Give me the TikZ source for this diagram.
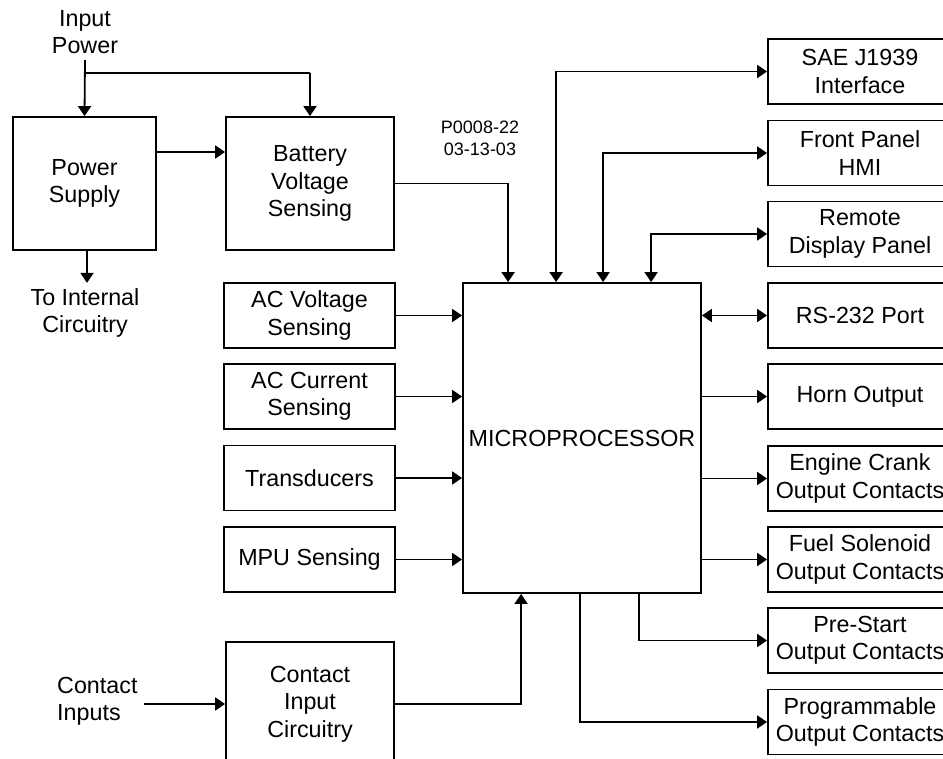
\documentclass[tikz,border=0pt]{standalone}
\usepackage{fontspec}
\setmainfont{Liberation Sans}
\usetikzlibrary{arrows.meta,calc}
\begin{document}
\begin{tikzpicture}[x=1pt,y=-1pt,
  blk/.style={draw, line width=1.8pt, inner sep=0pt, align=center, font=\fontsize{23.3}{27.3}\selectfont},
  lbl/.style={inner sep=0pt, align=center, font=\fontsize{23.3}{27.3}\selectfont},
  arr/.style={line width=1.8pt, -{Triangle[length=10pt,width=13pt]}},
  darr/.style={line width=1.8pt, {Triangle[length=10pt,width=13pt]}-{Triangle[length=10pt,width=13pt]}}]
\useasboundingbox (0,0) rectangle (943,759);
\clip (0,0) rectangle (943,759);
\fill[white] (0,0) rectangle (943,759);
% left column
\node[blk, minimum width=143pt, minimum height=133pt] (ps) at (84.5,183.5) {Power\\Supply};
\node[blk, minimum width=168pt, minimum height=133pt] (bat) at (310,183.5) {Battery\\Voltage\\Sensing};
\node[blk, minimum width=171pt, minimum height=65pt] (acv) at (309.5,315.5) {AC Voltage\\Sensing};
\node[blk, minimum width=171pt, minimum height=65pt] (acc) at (309.5,396.5) {AC Current\\Sensing};
\node[blk, minimum width=171pt, minimum height=65pt] (trd) at (309.5,478) {Transducers};
\node[blk, minimum width=171pt, minimum height=65pt] (mpu) at (309.5,559.5) {MPU Sensing};
\node[blk, minimum width=168pt, minimum height=124pt] (cic) at (310,704) {Contact\\Input\\Circuitry};
% microprocessor
\node[blk, minimum width=238pt, minimum height=310pt] (mic) at (582,438) {MICROPROCESSOR};
% right column
\node[blk, minimum width=184pt, minimum height=65pt] (sae) at (860,71.5) {SAE J1939\\Interface};
\node[blk, minimum width=184pt, minimum height=65pt] (fp) at (860,153) {Front Panel\\HMI};
\node[blk, minimum width=184pt, minimum height=65pt] (rd) at (860,234) {Remote\\Display Panel};
\node[blk, minimum width=184pt, minimum height=65pt] (rs) at (860,315.5) {RS-232 Port};
\node[blk, minimum width=184pt, minimum height=65pt] (horn) at (860,396.5) {Horn Output};
\node[blk, minimum width=184pt, minimum height=65pt] (eng) at (860,478.5) {Engine Crank\\Output Contacts};
\node[blk, minimum width=184pt, minimum height=65pt] (fuel) at (860,559.5) {Fuel Solenoid\\Output Contacts};
\node[blk, minimum width=184pt, minimum height=65pt] (pre) at (860,640.5) {Pre-Start\\Output Contacts};
\node[blk, minimum width=184pt, minimum height=65pt] (prog) at (860,722) {Programmable\\Output Contacts};
% free labels
\node[lbl] (ip) at (85,32) {Input\\Power};
\node[lbl] (ti) at (85,313) {To Internal\\Circuitry};
\node[lbl, align=left, anchor=west] (ci) at (57,701) {Contact\\Inputs};
\node[lbl, font=\fontsize{18}{21.7}\selectfont] (pn) at (480,138) {P0008-22\\03-13-03};
% coordinates
\coordinate (ipt) at (85,60);
\coordinate (br) at (85,73);
\coordinate (ps1) at (156,152);
% connectors
\draw[arr] (ipt) -- (ps.north);
\draw[line width=1.8pt] (br) -- (br -| bat.north);
\draw[arr] (br -| bat.north) -- (bat.north);
\draw[arr] (ps1) -- (ps1 -| bat.west);
\draw[arr] ([xshift=2.5pt]ps.south) -- ++(0,32);
\draw[arr] (bat.east) -| ([xshift=46pt]mic.north west);
\draw[darr] ([xshift=94pt]mic.north west) |- (sae.west);
\draw[darr] ([xshift=141pt]mic.north west) |- (fp.west);
\draw[darr] ([xshift=189pt]mic.north west) |- (rd.west);
\draw[darr] (mic.east |- rs.west) -- (rs.west);
\draw[arr] (mic.east |- horn.west) -- (horn.west);
\draw[arr] (mic.east |- eng.west) -- (eng.west);
\draw[arr] (mic.east |- fuel.west) -- (fuel.west);
\draw[arr] ([xshift=177pt]mic.south west) |- (pre.west);
\draw[arr] ([xshift=118pt]mic.south west) |- (prog.west);
\draw[arr] (acv.east) -- (acv.east -| mic.west);
\draw[arr] (acc.east) -- (acc.east -| mic.west);
\draw[arr] (trd.east) -- (trd.east -| mic.west);
\draw[arr] (mpu.east) -- (mpu.east -| mic.west);
\draw[arr] (cic.east) -| ([xshift=59pt]mic.south west);
\draw[arr] ([xshift=6pt]ci.east |- cic.west) -- (cic.west);
\end{tikzpicture}
\end{document}
